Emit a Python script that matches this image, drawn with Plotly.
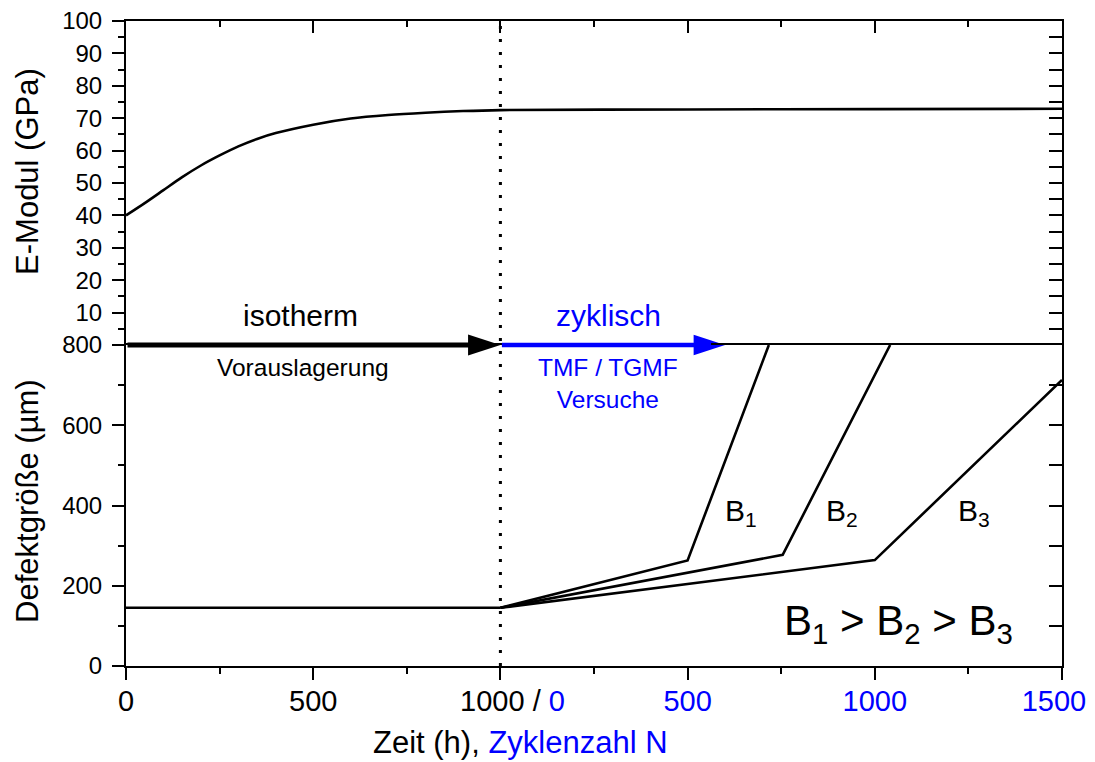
import plotly.graph_objects as go

# ---------------- data ----------------
PREAGE_END_H = 1000          # end of isothermal pre-ageing (h); cyclic axis starts here
X_MAX = 2500                 # 1000 h + 1500 cycles

# E-Modul (GPa) vs. combined axis position (h, then cycles after 1000)
e_pos = [0, 50, 100, 150, 200, 250, 300, 350, 400, 500, 600, 700, 800, 900, 1000, 1500, 2000, 2500]
e_modul = [40.0, 43.8, 47.8, 51.8, 55.4, 58.5, 61.3, 63.6, 65.4, 68.0, 69.9, 71.0, 71.7, 72.2, 72.5, 72.7, 72.8, 72.9]

# defect size during pre-ageing (h)
preage_h = [0, 1000]
preage_size = [145, 145]

# defect growth during cyclic tests (cycles N) for B1, B2, B3
b1_n = [0, 500, 717]
b1_size = [145, 263, 800]
b2_n = [0, 754, 1041]
b2_size = [145, 277, 800]
b3_n = [0, 1000, 1500]
b3_size = [145, 264, 713]

# phase arrows (combined axis positions: start, tip)
iso_arrow_x = [0, 1000]
cyc_arrow_x = [1000, 1600]
ARROW_LEVEL = 800

# tick labels
x_tickvals = [0, 500, 1000, 1500, 2000, 2500]
BLUE = "#0000ff"
x_ticktext = ["0", "500",
              "\u00a0" * 3 + "1000 / <span style='color:#0000ff'>0</span>",
              "<span style='color:#0000ff'>500</span>",
              "<span style='color:#0000ff'>1000</span>",
              "<span style='color:#0000ff'>1500</span>\u00a0\u00a0"]
e_tickvals = [10, 20, 30, 40, 50, 60, 70, 80, 90, 100]
d_tickvals = [0, 200, 400, 600, 800]

FONT = "Arial, Liberation Sans, sans-serif"

fig = go.Figure()

def cyc(ns):
    return [PREAGE_END_H + n for n in ns]

# E-Modul curve (top panel)
fig.add_trace(go.Scatter(x=e_pos, y=e_modul, mode="lines", xaxis="x2", yaxis="y2",
                         line=dict(color="black", width=2.6, shape="spline", smoothing=0.8),
                         showlegend=False, hoverinfo="skip"))

# defect lines (bottom panel)
for xs, ys in [(preage_h, preage_size), (cyc(b1_n), b1_size), (cyc(b2_n), b2_size), (cyc(b3_n), b3_size)]:
    fig.add_trace(go.Scatter(x=xs, y=ys, mode="lines", xaxis="x", yaxis="y",
                             line=dict(color="black", width=2.6),
                             showlegend=False, hoverinfo="skip"))

# phase arrows: shafts as annotation arrows (not clipped), heads as arrow markers
for xs, col, w, hs in [(iso_arrow_x, "black", 5, 34), (cyc_arrow_x, BLUE, 4.5, 33)]:
    fig.add_annotation(x=xs[1], y=ARROW_LEVEL, ax=xs[0], ay=ARROW_LEVEL, xref="x", yref="y",
                       axref="x", ayref="y", text="", showarrow=True, arrowhead=0,
                       arrowwidth=w, arrowcolor=col, standoff=14)
    fig.add_trace(go.Scatter(x=[xs[1]], y=[ARROW_LEVEL], mode="markers", xaxis="x", yaxis="y",
                             marker=dict(symbol="arrow", angle=90, size=hs, color=col, line=dict(width=0)),
                             cliponaxis=False, showlegend=False, hoverinfo="skip"))

# helper traces so the mirrored right-hand axes are drawn
fig.add_trace(go.Scatter(x=[None], y=[None], xaxis="x", yaxis="y3", showlegend=False, hoverinfo="skip"))
fig.add_trace(go.Scatter(x=[None], y=[None], xaxis="x2", yaxis="y4", showlegend=False, hoverinfo="skip"))

SPLIT = 321 / 645

axis_common = dict(showline=True, linecolor="black", linewidth=2, showgrid=False, zeroline=False,
                   tickcolor="black", tickwidth=2, automargin=False, ticklabeloverflow="allow",
                   tickfont=dict(family=FONT, color="black"))

# the page body has an 8 px margin, so the figure is sized/offset to compensate
fig.update_layout(
    width=1087, height=754,
    margin=dict(l=118, r=33, t=13, b=96),
    paper_bgcolor="white", plot_bgcolor="white",
    font=dict(family=FONT, color="black"),
    xaxis=dict(**axis_common, domain=[0, 1], anchor="y", range=[0, X_MAX],
               tickmode="array", tickvals=x_tickvals, ticktext=x_ticktext,
               ticks="outside", ticklen=12, mirror=True, ticklabelstandoff=-4,
               minor=dict(dtick=250, tick0=0, ticks="outside", ticklen=6, tickwidth=2, tickcolor="black")),
    xaxis2=dict(**axis_common, domain=[0, 1], anchor="y2", range=[0, X_MAX], matches="x", side="top",
                showticklabels=False, tickmode="linear", tick0=0, dtick=500,
                ticks="inside", ticklen=12,
                minor=dict(dtick=250, tick0=0, ticks="inside", ticklen=6, tickwidth=2, tickcolor="black")),
    yaxis=dict(**axis_common, domain=[0, SPLIT], anchor="x", range=[0, 800],
               tickmode="array", tickvals=d_tickvals, ticks="outside", ticklen=12, ticklabelstandoff=5,
               minor=dict(dtick=100, tick0=0, ticks="outside", ticklen=6, tickwidth=2, tickcolor="black")),
    yaxis2=dict(**axis_common, domain=[SPLIT, 1], anchor="x2", range=[0, 100],
                tickmode="array", tickvals=e_tickvals, ticks="outside", ticklen=12, ticklabelstandoff=5,
                minor=dict(dtick=5, tick0=0, ticks="outside", ticklen=6, tickwidth=2, tickcolor="black")),
    yaxis3=dict(**axis_common, overlaying="y", side="right", anchor="x", range=[0, 800],
                showticklabels=False, tickmode="linear", tick0=0, dtick=100, ticks="inside", ticklen=13),
    yaxis4=dict(**axis_common, overlaying="y2", side="right", anchor="x2", range=[0, 100],
                showticklabels=False, tickmode="linear", tick0=0, dtick=5, ticks="inside", ticklen=13),
)
fig.update_xaxes(tickfont_size=29)
fig.update_layout(yaxis_tickfont_size=24, yaxis2_tickfont_size=24)

# vertical dotted line at the end of pre-ageing
fig.add_shape(type="line", xref="x", yref="paper", x0=PREAGE_END_H, x1=PREAGE_END_H, y0=0, y1=1,
              line=dict(color="black", width=3, dash="3px,10px"), layer="above")

def ann(text, x, y, size, color="black", xref="x", yref="y", **kw):
    fig.add_annotation(text=text, x=x, y=y, xref=xref, yref=yref, showarrow=False,
                       font=dict(family=FONT, size=size, color=color), **kw)

ann("isotherm", 465, 9.0, 30, xref="x2", yref="y2")
ann("zyklisch", 1290, 9.0, 30, BLUE, xref="x2", yref="y2")
ann("Vorauslagerung", 473, 743, 24.5)
ann("TMF / TGMF<br>Versuche", 1287, 703, 24.5, BLUE)
ann("B<sub>1</sub>", 1643, 382, 30)
ann("B<sub>2</sub>", 1912, 382, 30)
ann("B<sub>3</sub>", 2265, 382, 30)
ann("B<sub>1</sub> > B<sub>2</sub> > B<sub>3</sub>", 2062, 106, 42)

# axis titles
ann("E-Modul (GPa)", -0.1047, 0.766, 31, xref="paper", yref="paper", textangle=-90,
    xanchor="center", yanchor="middle")
ann("Defektgröße (µm)", -0.1047, 0.256, 31, xref="paper", yref="paper", textangle=-90,
    xanchor="center", yanchor="middle")
ann("Zeit (h), <span style='color:#0000ff'>Zyklenzahl N</span>", 0.421, -0.118, 31,
    xref="paper", yref="paper", xanchor="center", yanchor="middle")

fig.write_html("out.html")
